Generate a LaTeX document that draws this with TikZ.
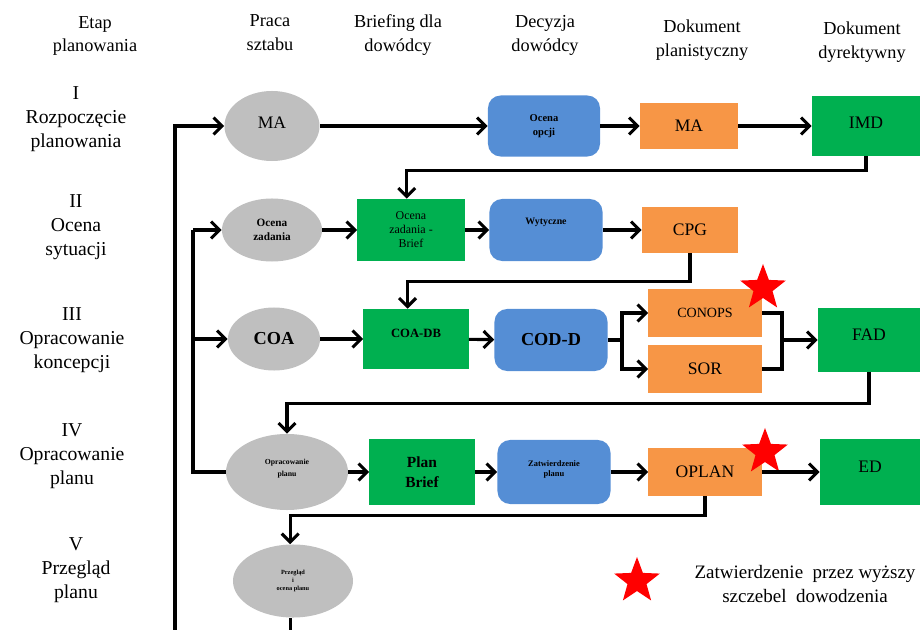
\documentclass[tikz,border=0pt]{standalone}
\usepackage{fontspec}
\setmainfont{Liberation Serif}
\usetikzlibrary{arrows.meta,shapes.geometric}
\usepackage{xcolor}
\definecolor{Szary}{HTML}{BFBFBF}
\definecolor{Niebieski}{HTML}{558ED5}
\definecolor{Pomarancz}{HTML}{F79646}
\definecolor{Zielony}{HTML}{00B050}

\begin{document}
\begin{tikzpicture}[x=0.025cm,y=-0.025cm,
    font=\fontsize{12.5}{17}\selectfont,
    opis/.style={align=center},
    etap/.style={align=center,font=\fontsize{14}{17}\selectfont},
    praca/.style={ellipse,fill=Szary,align=center,inner sep=0pt},
    odprawa/.style={rectangle,fill=Zielony,align=center,inner sep=0pt},
    decyzja/.style={rectangle,rounded corners=9pt,fill=Niebieski,align=center,inner sep=0pt},
    plandok/.style={rectangle,fill=Pomarancz,align=center,inner sep=0pt},
    dyrektywa/.style={rectangle,fill=Zielony,align=center,inner sep=0pt},
    gwiazda/.style={star,star points=5,star point ratio=2.4,fill=red,minimum size=1.2cm,inner sep=0pt},
    linia/.style={line width=2.2pt},
    flow/.style={line width=2.2pt,-{Straight Barb[length=6pt,width=12pt]}}]
    \useasboundingbox (0,0) rectangle (922,630);

    % naglowki kolumn
    \node[opis,font=\fontsize{13}{17}\selectfont] (h1) at (95,36) {Etap\\planowania};
    \node[opis,font=\fontsize{13}{17}\selectfont] (h2) at (270,33) {Praca\\sztabu};
    \node[opis,font=\fontsize{13}{17}\selectfont] (h3) at (398,35) {Briefing dla\\dowódcy};
    \node[opis,font=\fontsize{13}{17}\selectfont] (h4) at (545,35) {Decyzja\\dowódcy};
    \node[opis,font=\fontsize{13}{17}\selectfont] (h5) at (702,40) {Dokument\\planistyczny};
    \node[opis,font=\fontsize{13}{17}\selectfont] (h6) at (862,42) {Dokument\\dyrektywny};

    % etapy
    \node[etap] (e1) at (76,119) {I\\Rozpoczęcie\\planowania};
    \node[etap] (e2) at (76,227) {II\\Ocena\\sytuacji};
    \node[etap] (e3) at (72,340) {III\\Opracowanie\\koncepcji};
    \node[etap] (e4) at (72,456) {IV\\Opracowanie\\planu};
    \node[etap] (e5) at (76,570) {V\\Przegląd\\planu};

    % etap I
    \node[praca,minimum width=2.375cm,minimum height=1.75cm] (ma) at (272,126) {\raisebox{4pt}{MA}};
    \node[decyzja,minimum width=2.8cm,minimum height=1.525cm,font=\fontsize{7.5}{10}\selectfont\bfseries] (opcje) at (544,126) {Ocena\\opcji};
    \node[plandok,minimum width=2.45cm,minimum height=1.15cm] (madok) at (689,126) {MA};
    \node[dyrektywa,minimum width=2.7cm,minimum height=1.5cm] (imd) at (866,126) {\raisebox{4pt}{IMD}};

    % etap II
    \node[praca,minimum width=2.5cm,minimum height=1.575cm,font=\fontsize{8}{10}\selectfont\bfseries] (zadanie) at (272,230) {Ocena\\zadania};
    \node[odprawa,minimum width=2.675cm,minimum height=1.55cm,font=\fontsize{8.5}{10}\selectfont] (zadbrief) at (411,230) {Ocena\\zadania -\\Brief};
    \node[decyzja,minimum width=2.825cm,minimum height=1.55cm,font=\fontsize{7}{9}\selectfont\bfseries] (wytyczne) at (546,230) {\raisebox{12pt}{Wytyczne}};
    \node[plandok,minimum width=2.4cm,minimum height=1.15cm] (cpg) at (690,230) {CPG};

    % etap III
    \node[praca,minimum width=2.3cm,minimum height=1.575cm,font=\fontsize{13}{15}\selectfont\bfseries] (coa) at (274,339) {COA};
    \node[odprawa,minimum width=2.625cm,minimum height=1.5cm,font=\fontsize{9}{11}\selectfont\bfseries] (coadb) at (416,339) {\raisebox{8pt}{COA-DB}};
    \node[decyzja,minimum width=2.825cm,minimum height=1.55cm,font=\fontsize{13}{15}\selectfont\bfseries] (codd) at (551,340) {COD-D};
    \node[plandok,minimum width=2.825cm,minimum height=1.175cm,font=\fontsize{10}{12}\selectfont] (conops) at (705,313) {CONOPS};
    \node[plandok,minimum width=2.825cm,minimum height=1.175cm] (sor) at (705,369) {SOR};
    \node[dyrektywa,minimum width=2.55cm,minimum height=1.575cm] (fad) at (869,340) {\raisebox{8pt}{FAD}};
    \node[gwiazda] (g1) at (763,288) {};

    % etap IV
    \node[praca,minimum width=3.05cm,minimum height=1.9cm,font=\fontsize{5.5}{7}\selectfont\bfseries] (oprac) at (287,472) {\raisebox{6pt}{\shortstack{Opracowanie\\planu}}};
    \node[odprawa,minimum width=2.625cm,minimum height=1.625cm,font=\fontsize{11}{14}\selectfont\bfseries] (planbrief) at (422,472) {Plan\\Brief};
    \node[decyzja,minimum width=2.825cm,minimum height=1.6cm,font=\fontsize{6}{8}\selectfont\bfseries] (zatw) at (554,472) {\raisebox{5pt}{\shortstack{Zatwierdzenie\\planu}}};
    \node[plandok,minimum width=2.825cm,minimum height=1.2cm] (oplan) at (705,472) {OPLAN};
    \node[dyrektywa,minimum width=2.5cm,minimum height=1.625cm] (ed) at (870,472) {\raisebox{8pt}{ED}};
    \node[gwiazda] (g2) at (765,452) {};

    % etap V
    \node[praca,minimum width=3.0cm,minimum height=1.825cm,font=\fontsize{4.5}{6}\selectfont\bfseries] (przeglad) at (293,581) {Przegląd\\i\\ocena planu};

    % legenda
    \node[gwiazda] (g3) at (637,581) {};
    \node[opis,font=\fontsize{13.5}{17}\selectfont] (legenda) at (805,584) {Zatwierdzenie\ \ przez wyższy\\szczebel\ \ dowodzenia};

    % punkty pomocnicze
    \coordinate (dol) at (175,640);
    \coordinate (lewa) at (193,230);
    \coordinate (lewacoa) at (193,339);
    \coordinate (rozw) at (622,340);
    \coordinate (zbieg) at (782,340);

    % polaczenia
    \draw[flow] (dol) |- (ma.west);
    \draw[flow] (ma) -- (opcje);
    \draw[flow] (opcje) -- (madok);
    \draw[flow] (madok) -- (imd);
    \draw[flow] (imd.south) -- ++(0,14) -| ([xshift=-3pt]zadbrief.north);

    \draw[linia] (oprac.west) -| (lewa);
    \draw[flow] (lewa) -- (zadanie.west);
    \draw[flow] (lewacoa) -- (coa.west);
    \draw[flow] (zadanie) -- (zadbrief);
    \draw[flow] (zadbrief) -- (wytyczne);
    \draw[flow] (wytyczne) -- (cpg);
    \draw[flow] (cpg.south) -- ++(0,28) -| ([xshift=-6pt]coadb.north);

    \draw[flow] (coa) -- (coadb);
    \draw[flow] (coadb) -- (codd);
    \draw[linia] (codd.east) -- (rozw);
    \draw[flow] (rozw) |- (conops.west);
    \draw[flow] (rozw) |- (sor.west);
    \draw[linia] (conops.east) -| (zbieg);
    \draw[linia] (sor.east) -| (zbieg);
    \draw[flow] (zbieg) -- (fad.west);
    \draw[flow] (fad.south) -- ++(0,32) -| (oprac.north);

    \draw[flow] (oprac) -- (planbrief);
    \draw[flow] (planbrief) -- (zatw);
    \draw[flow] (zatw) -- (oplan);
    \draw[flow] (oplan) -- (ed);
    \draw[flow] (oplan.south) -- ++(0,19) -| ([xshift=-2pt]przeglad.north);
    \draw[linia] ([xshift=-2pt]przeglad.south) -- ([xshift=-2pt]przeglad.south |- dol);
\end{tikzpicture}
\end{document}
